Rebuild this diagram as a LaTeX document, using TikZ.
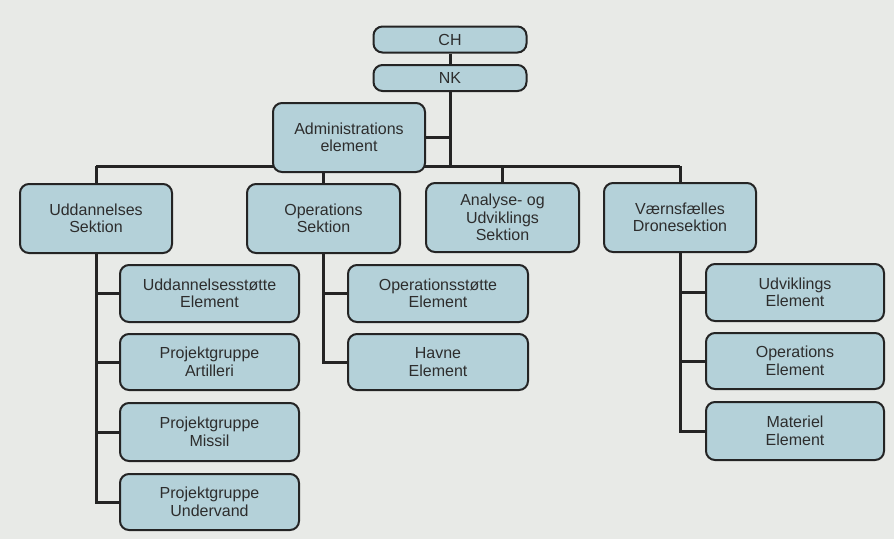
\documentclass[tikz,border=0pt]{standalone}
\usepackage{fontspec}
\setmainfont{Liberation Sans}
\usetikzlibrary{backgrounds}
\definecolor{boxfill}{RGB}{180,209,217}
\definecolor{bgcol}{RGB}{232,234,231}
\definecolor{linecol}{RGB}{36,36,36}
\definecolor{txtcol}{RGB}{45,45,45}
\begin{document}
\begin{tikzpicture}[x=1pt,y=-1pt,
  orgbox/.style={draw=linecol, line width=2pt, fill=boxfill, rounded corners=9pt,
    align=center, inner sep=0pt, text=txtcol,
    font=\fontsize{16}{17.5}\selectfont},
  conn/.style={draw=linecol, line width=3pt}]
\useasboundingbox (0,0) rectangle (894,539);
% top
\node[orgbox, minimum width=153pt, minimum height=26pt] (CH) at (450,39.5) {CH};
\node[orgbox, minimum width=153pt, minimum height=26pt] (NK) at (450,78) {NK};
\node[orgbox, minimum width=152pt, minimum height=69pt] (adm) at (349,137.5) {Administrations\\element};
% sections
\node[orgbox, minimum width=152pt, minimum height=69pt] (uS) at (96,218.5) {Uddannelses\\Sektion};
\node[orgbox, minimum width=153pt, minimum height=69pt] (oS) at (323.5,218.5) {Operations\\Sektion};
\node[orgbox, minimum width=153pt, minimum height=69pt] (aS) at (502.5,217.5) {Analyse- og\\Udviklings\\Sektion};
\node[orgbox, minimum width=152pt, minimum height=69pt] (vS) at (680,217.5) {Værnsfælles\\Dronesektion};
% uddannelse children
\node[orgbox, minimum width=179pt, minimum height=57pt] (u1) at (209.5,293.5) {Uddannelsesstøtte\\Element};
\node[orgbox, minimum width=179pt, minimum height=56pt] (u2) at (209.5,362) {Projektgruppe\\Artilleri};
\node[orgbox, minimum width=179pt, minimum height=58pt] (u3) at (209.5,432) {Projektgruppe\\Missil};
\node[orgbox, minimum width=179pt, minimum height=56pt] (u4) at (209.5,502) {Projektgruppe\\Undervand};
% operations children
\node[orgbox, minimum width=180pt, minimum height=57pt] (o1) at (438,293.5) {Operationsstøtte\\Element};
\node[orgbox, minimum width=180pt, minimum height=56pt] (o2) at (438,362) {Havne\\Element};
% drone children
\node[orgbox, minimum width=178pt, minimum height=57pt] (v1) at (795,292.5) {Udviklings\\Element};
\node[orgbox, minimum width=178pt, minimum height=56pt] (v2) at (795,361) {Operations\\Element};
\node[orgbox, minimum width=178pt, minimum height=58pt] (v3) at (795,431) {Materiel\\Element};
\coordinate (bus) at (450,166);
\begin{scope}[on background layer]
  \fill[bgcol] (0,0) rectangle (894,539);
  \draw[conn] (CH) -- (NK);
  \draw[conn] (NK.south) -- (bus);
  \draw[conn] (adm.east) -- (adm.east -| bus);
  \draw[conn] (uS.north |- bus) -- (vS.north |- bus);
  \draw[conn] (uS.north |- bus) -- (uS.north);
  \draw[conn] (oS.north |- bus) -- (oS.north);
  \draw[conn] (aS.north |- bus) -- (aS.north);
  \draw[conn] (vS.north |- bus) -- (vS.north);
  % children
  \draw[conn] (uS.south) |- (u4.west);
  \draw[conn] (uS.south |- u1.west) -- (u1.west);
  \draw[conn] (uS.south |- u2.west) -- (u2.west);
  \draw[conn] (uS.south |- u3.west) -- (u3.west);
  \draw[conn] (oS.south) |- (o2.west);
  \draw[conn] (oS.south |- o1.west) -- (o1.west);
  \draw[conn] (vS.south) |- (v3.west);
  \draw[conn] (vS.south |- v1.west) -- (v1.west);
  \draw[conn] (vS.south |- v2.west) -- (v2.west);
\end{scope}
\end{tikzpicture}
\end{document}
